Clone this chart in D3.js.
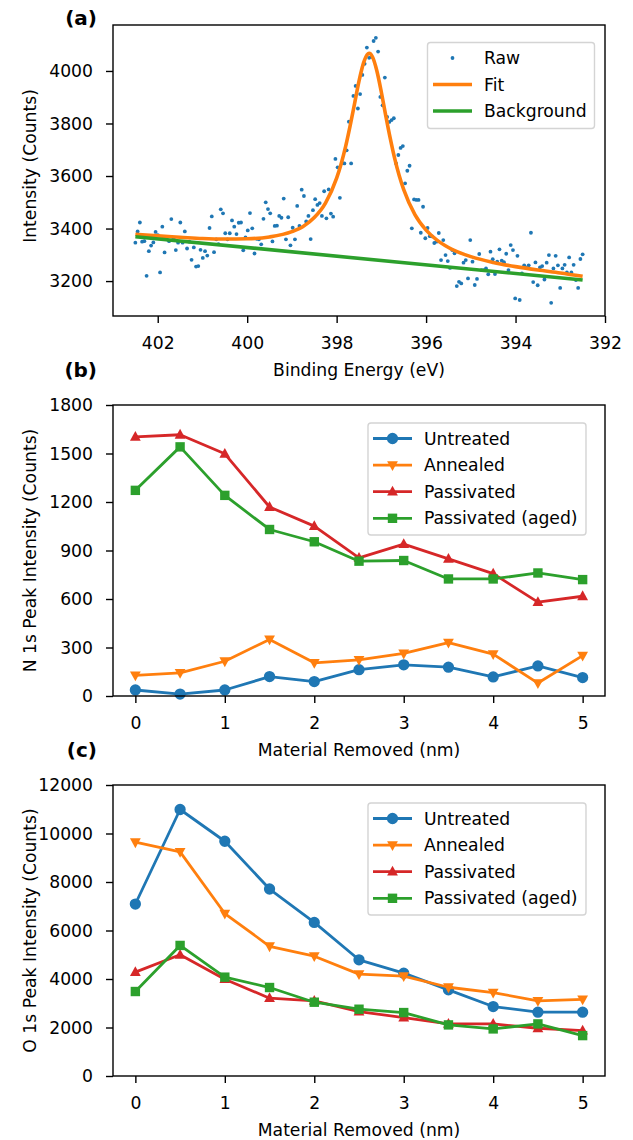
<!DOCTYPE html>
<html lang="en">
<head>
<meta charset="UTF-8">
<title>XPS N 1s / O 1s</title>
<script src="https://d3js.org/d3.v7.min.js"></script>
<style>
  body { margin: 0; background: #fff; }
  svg { display: block; font-family: "DejaVu Sans", sans-serif; }
  .tick text { font-size: 17.2px; fill: #000; font-family: "DejaVu Sans", sans-serif; }
  .lbl { font-size: 17.2px; fill: #000; }
  .panel { font-size: 20px; font-weight: bold; fill: #000; }
</style>
</head>
<body>
<div id="chart"></div>
<script>
// (a) raw spectrum, 200 channels from 402.5 to 392.5 eV
const energyStart = 402.5, energyEnd = 392.5;
const rawCounts = [
  3346, 3389, 3423, 3350, 3352, 3220, 3314, 3335, 3347, 3387,
  3375, 3233, 3407, 3309, 3359, 3352, 3436, 3363, 3318, 3346,
  3423, 3346, 3389, 3324, 3350, 3281, 3328, 3255, 3257, 3319,
  3288, 3314, 3297, 3402, 3446, 3310, 3359, 3341, 3473, 3458,
  3382, 3359, 3382, 3431, 3407, 3379, 3422, 3423, 3317, 3366,
  3393, 3459, 3401, 3305, 3361, 3359, 3340, 3437, 3500, 3474,
  3458, 3351, 3410, 3411, 3448, 3441, 3514, 3359, 3443, 3336,
  3403, 3359, 3486, 3410, 3548, 3524, 3427, 3448, 3360, 3470,
  3512, 3490, 3497, 3448, 3542, 3439, 3549, 3457, 3445, 3665,
  3633, 3517, 3650, 3648, 3698, 3807, 3648, 3905, 3943, 3857,
  3912, 3985, 4027, 4089, 4050, 4054, 4114, 4126, 4074, 3901,
  3869, 3975, 3825, 3806, 3813, 3820, 3648, 3680, 3707, 3714,
  3572, 3620, 3639, 3401, 3511, 3509, 3509, 3384, 3483, 3363,
  3402, 3371, 3370, 3345, 3350, 3383, 3280, 3356, 3299, 3276,
  3250, 3318, 3306, 3181, 3197, 3191, 3270, 3280, 3210, 3356,
  3274, 3185, 3208, 3303, 3242, 3242, 3248, 3226, 3312, 3283,
  3227, 3274, 3321, 3278, 3272, 3304, 3242, 3337, 3318, 3134,
  3296, 3128, 3229, 3260, 3250, 3260, 3384, 3196, 3271, 3184,
  3252, 3257, 3206, 3270, 3299, 3117, 3248, 3296, 3260, 3174,
  3248, 3262, 3233, 3290, 3233, 3262, 3204, 3174, 3284, 3302
];
const fitEnergy = [402.5, 402, 401.5, 401, 400.5, 400, 399.5, 399, 398.75, 398.5,
  398.25, 398, 397.9, 397.8, 397.7, 397.6, 397.5, 397.4, 397.3, 397.27, 397.2,
  397.1, 397, 396.9, 396.8, 396.7, 396.6, 396.5, 396.25, 396, 395.75, 395.5,
  395, 394.5, 394, 393.5, 393, 392.5];
const fitCounts = [3378, 3372, 3367, 3362, 3360, 3361, 3368, 3388, 3408, 3442,
  3497, 3592, 3646, 3712, 3790, 3875, 3961, 4030, 4065, 4067, 4054,
  4000, 3919, 3828, 3742, 3665, 3601, 3548, 3453, 3394, 3355, 3328,
  3293, 3271, 3255, 3242, 3231, 3218];
const bgEnergy = [402.5, 392.5];
const bgCounts = [3369, 3204];

// (b), (c) depth profiles
const depth = [0, 0.5, 1, 1.5, 2, 2.5, 3, 3.5, 4, 4.5, 5];
const seriesNames = ["Untreated", "Annealed", "Passivated", "Passivated (aged)"];
const n1sUntreated = [37, 12, 37, 120, 89, 163, 193, 178, 118, 186, 114];
const n1sAnnealed = [128, 143, 215, 350, 205, 224, 263, 330, 259, 80, 250];
const n1sPassivated = [1603, 1616, 1498, 1169, 1051, 854, 939, 848, 757, 581, 617];
const n1sAged = [1272, 1541, 1241, 1030, 954, 834, 838, 724, 724, 761, 720];
const o1sUntreated = [7092, 10990, 9680, 7711, 6334, 4792, 4241, 3553, 2864, 2630, 2630];
const o1sAnnealed = [9640, 9240, 6700, 5350, 4940, 4200, 4120, 3660, 3440, 3100, 3160];
const o1sPassivated = [4282, 4998, 3993, 3208, 3098, 2658, 2410, 2148, 2148, 1969, 1873];
const o1sAged = [3484, 5384, 4076, 3649, 3043, 2754, 2616, 2107, 1942, 2148, 1666];

const colors = ["#1f77b4", "#ff7f0e", "#d62728", "#2ca02c"];
const symbols = ["circle", "down", "up", "square"];

const W = 633, H = 1140;
const svg = d3.select("#chart").append("svg").attr("width", W).attr("height", H);

const left = 113, right = 605;
const panels = [
  {top: 25, bottom: 316, tagY: 25},
  {top: 405, bottom: 696, tagY: 377},
  {top: 785, bottom: 1076, tagY: 757}
];

function markerPath(type) {
  if (type === "circle") return d3.symbol(d3.symbolCircle, 100)();
  if (type === "square") return "M-4.7,-4.7H4.7V4.7H-4.7Z";
  if (type === "up") return "M0,-5.9L5.4,3.9L-5.4,3.9Z";
  return "M0,5.9L5.4,-3.9L-5.4,-3.9Z";
}

function frame(g, p, x, y, xTicks, yTicks, xLabel, yLabel, yLabelY, tag) {
  const xa = g.append("g").attr("transform", `translate(0,${p.bottom})`)
    .call(d3.axisBottom(x).tickValues(xTicks).tickSize(7).tickPadding(14).tickFormat(d3.format("d")));
  const ya = g.append("g").attr("transform", `translate(${left},0)`)
    .call(d3.axisLeft(y).tickValues(yTicks).tickSize(7).tickPadding(13).tickFormat(d3.format("d")));
  [xa, ya].forEach(a => {
    a.attr("font-size", null).attr("font-family", null);
    a.select(".domain").remove();
    a.selectAll(".tick line").attr("stroke", "#000").attr("stroke-width", 1.4);
  });
  g.append("rect").attr("x", left).attr("y", p.top)
    .attr("width", right - left).attr("height", p.bottom - p.top)
    .attr("fill", "none").attr("stroke", "#000").attr("stroke-width", 1.4);
  g.append("text").attr("class", "lbl").attr("text-anchor", "middle")
    .attr("x", (left + right) / 2).attr("y", p.bottom + 60).text(xLabel);
  g.append("text").attr("class", "lbl").attr("text-anchor", "middle")
    .attr("transform", `translate(36,${yLabelY}) rotate(-90)`).text(yLabel);
  g.append("text").attr("class", "panel").attr("text-anchor", "end")
    .attr("x", 97).attr("y", p.tagY).text(tag);
}

// ---- panel (a)
{
  const p = panels[0];
  const g = svg.append("g");
  const x = d3.scaleLinear().domain([403, 392]).range([left, right]);
  const y = d3.scaleLinear().domain([3067, 4175]).range([p.bottom, p.top]);
  const step = (energyStart - energyEnd) / (rawCounts.length - 1);
  const raw = rawCounts.map((c, i) => [energyStart - i * step, c]);
  g.append("clipPath").attr("id", "clipA").append("rect")
    .attr("x", left).attr("y", p.top).attr("width", right - left).attr("height", p.bottom - p.top);
  const plot = g.append("g").attr("clip-path", "url(#clipA)");
  plot.selectAll("circle").data(raw).join("circle")
    .attr("cx", d => x(d[0])).attr("cy", d => y(d[1])).attr("r", 1.9).attr("fill", colors[0]);
  const line = d3.line().x(d => x(d[0])).y(d => y(d[1])).curve(d3.curveMonotoneX);
  plot.append("path").datum(fitEnergy.map((e, i) => [e, fitCounts[i]]))
    .attr("d", line).attr("fill", "none").attr("stroke", colors[1]).attr("stroke-width", 3.6);
  plot.append("path").datum(bgEnergy.map((e, i) => [e, bgCounts[i]]))
    .attr("d", line).attr("fill", "none").attr("stroke", colors[3]).attr("stroke-width", 3.6);
  frame(g, p, x, y, [402, 400, 398, 396, 394, 392], d3.range(3200, 4001, 200),
    "Binding Energy (eV)", "Intensity (Counts)", 166, "(a)");

  // legend
  const lg = g.append("g");
  lg.append("rect").attr("x", 427.5).attr("y", 42.5).attr("width", 167).attr("height", 86)
    .attr("rx", 3).attr("fill", "#fff").attr("fill-opacity", 0.8).attr("stroke", "#d4d4d4").attr("stroke-width", 1.4);
  const items = [["Raw", "dot", colors[0]], ["Fit", "line", colors[1]], ["Background", "line", colors[3]]];
  items.forEach((it, i) => {
    const yy = 58 + i * 26.5;
    if (it[1] === "dot") lg.append("circle").attr("cx", 452.5).attr("cy", yy).attr("r", 1.9).attr("fill", it[2]);
    else lg.append("line").attr("x1", 433).attr("x2", 472).attr("y1", yy).attr("y2", yy)
      .attr("stroke", it[2]).attr("stroke-width", 3.6);
    lg.append("text").attr("class", "lbl").attr("x", 484).attr("y", yy).attr("dy", "0.36em").text(it[0]);
  });
}

// ---- panels (b), (c)
function profilePanel(p, yDomain, yTicks, seriesVals, yLabel, tag, legendTop) {
  const g = svg.append("g");
  const x = d3.scaleLinear().domain([-0.25, 5.25]).range([left, right]);
  const y = d3.scaleLinear().domain(yDomain).range([p.bottom, p.top]);
  const line = d3.line().x((d, i) => x(depth[i])).y(d => y(d));
  seriesVals.forEach((vals, k) => {
    const s = g.append("g");
    s.append("path").datum(vals).attr("d", line).attr("fill", "none")
      .attr("stroke", colors[k]).attr("stroke-width", 2.8).attr("stroke-linejoin", "round");
    s.selectAll("path.m").data(vals).join("path").attr("class", "m")
      .attr("transform", (d, i) => `translate(${x(depth[i])},${y(d)})`)
      .attr("d", markerPath(symbols[k])).attr("fill", colors[k]);
  });
  frame(g, p, x, y, d3.range(0, 6), yTicks, "Material Removed (nm)", yLabel,
    (p.top + p.bottom) / 2, tag);

  const lg = g.append("g");
  lg.append("rect").attr("x", 368).attr("y", legendTop).attr("width", 218).attr("height", 112)
    .attr("rx", 3).attr("fill", "#fff").attr("fill-opacity", 0.8).attr("stroke", "#d4d4d4").attr("stroke-width", 1.4);
  seriesNames.forEach((name, k) => {
    const yy = legendTop + 15.5 + k * 26.6;
    lg.append("line").attr("x1", 373).attr("x2", 412).attr("y1", yy).attr("y2", yy)
      .attr("stroke", colors[k]).attr("stroke-width", 2.8);
    lg.append("path").attr("transform", `translate(392.5,${yy})`).attr("d", markerPath(symbols[k])).attr("fill", colors[k]);
    lg.append("text").attr("class", "lbl").attr("x", 424).attr("y", yy).attr("dy", "0.36em").text(name);
  });
}

profilePanel(panels[1], [0, 1800], d3.range(0, 1801, 300),
  [n1sUntreated, n1sAnnealed, n1sPassivated, n1sAged], "N 1s Peak Intensity (Counts)", "(b)", 423);
profilePanel(panels[2], [0, 12000], d3.range(0, 12001, 2000),
  [o1sUntreated, o1sAnnealed, o1sPassivated, o1sAged], "O 1s Peak Intensity (Counts)", "(c)", 803);
</script>
</body>
</html>
